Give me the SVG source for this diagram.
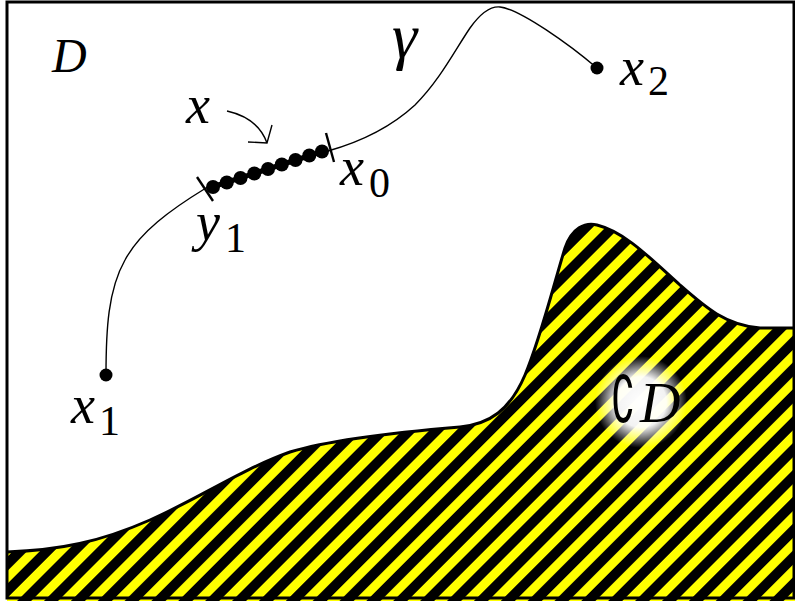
<svg xmlns="http://www.w3.org/2000/svg" width="795" height="601" viewBox="0 0 795 601">
<defs>
<pattern id="stripes" patternUnits="userSpaceOnUse" width="19" height="19" patternTransform="rotate(45)">
<rect x="0" y="0" width="19" height="19" fill="#ffff00"/>
<rect x="0" y="0" width="10" height="19" fill="#000"/>
</pattern>
<radialGradient id="glow" cx="0.5" cy="0.5" r="0.5">
<stop offset="0" stop-color="#fff" stop-opacity="1"/>
<stop offset="0.55" stop-color="#fff" stop-opacity="0.95"/>
<stop offset="1" stop-color="#fff" stop-opacity="0"/>
</radialGradient>
<style>
.thin{fill:none;stroke:#000;stroke-width:1.4}
</style>
</defs>
<rect x="0" y="0" width="795" height="601" fill="#fff"/>
<g id="complement">
<path d="M7,552 C60,550 100,542 150,520 C200,498 240,470 290,452 C330,440 400,432 460,427 C490,424 510,410 525,375 C540,340 555,280 565,248 C572,228 585,222 597,225 C625,232 650,258 680,285 C705,307 725,325 760,328 L797,328 L797,601 L7,601 Z" fill="url(#stripes)"/>
<path d="M7,552 C60,550 100,542 150,520 C200,498 240,470 290,452 C330,440 400,432 460,427 C490,424 510,410 525,375 C540,340 555,280 565,248 C572,228 585,222 597,225 C625,232 650,258 680,285 C705,307 725,325 760,328 L797,328" fill="none" stroke="#000" stroke-width="3"/>
<circle cx="641" cy="402" r="46" fill="url(#glow)"/>
<text transform="translate(611,422) scale(0.8,1.35)" font-family="DejaVu Sans, sans-serif" font-size="48" fill="#000">∁</text>
<text x="640" y="422" font-family="'Liberation Serif', serif" font-style="italic" font-size="56" fill="#000">D</text>
</g>
<g id="connectors">
<path class="thin" d="M106,375 C106,330 108,290 125,260 C140,232 170,210 206,188 L328,151 C360,142 390,128 415,105 C440,80 455,50 470,28 C480,14 490,6 500,7 C520,9 570,45 597,68"/>
<line x1="212" y1="187" x2="324" y2="151" stroke="#000" stroke-width="5"/>
<g fill="#000">
<circle cx="213" cy="187" r="7"/>
<circle cx="226.8" cy="182.5" r="7"/>
<circle cx="240.5" cy="178" r="7"/>
<circle cx="254.3" cy="173.5" r="7"/>
<circle cx="268" cy="169" r="7"/>
<circle cx="281.8" cy="164.5" r="7"/>
<circle cx="295.5" cy="160" r="7"/>
<circle cx="309.3" cy="155.5" r="7"/>
<circle cx="322" cy="151.5" r="7"/>
</g>
<line x1="197" y1="177" x2="213" y2="201" stroke="#000" stroke-width="2.4"/>
<line x1="326" y1="133" x2="334" y2="162" stroke="#000" stroke-width="2.4"/>
<path class="thin" d="M227,111 Q258,118 267,143 M248,142 L267,143 L272,125"/>
</g>
<g font-family="'Liberation Serif', serif" fill="#000">
<g id="D"><text x="52" y="72" font-style="italic" font-size="48">D</text></g>
<g id="gamma"><text x="392" y="57" font-style="italic" font-size="64">γ</text></g>
<g id="x"><text x="186" y="123" font-style="italic" font-size="54">x</text></g>
<g id="x0"><text x="340" y="185" font-style="italic" font-size="54">x</text><text x="369" y="197" font-size="42">0</text></g>
<g id="y1"><text x="196" y="240" font-style="italic" font-size="54">y</text><text x="225" y="252" font-size="42">1</text></g>
<g id="x2"><circle cx="597" cy="68" r="6.5"/><text x="620" y="85" font-style="italic" font-size="54">x</text><text x="648" y="95" font-size="42">2</text></g>
<g id="x1"><circle cx="106" cy="375" r="6.5"/><text x="71" y="423" font-style="italic" font-size="54">x</text><text x="99" y="435" font-size="42">1</text></g>
</g>
<rect x="7" y="2" width="787" height="596" fill="none" stroke="#000" stroke-width="3"/>
</svg>
